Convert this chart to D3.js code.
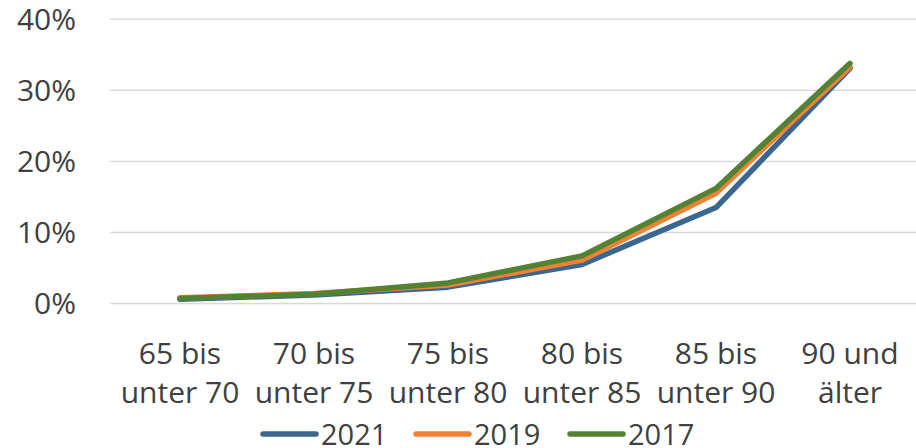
<!DOCTYPE html>
<html><head><meta charset="utf-8">
<script src="https://cdn.jsdelivr.net/npm/d3@7"></script>
<style>body{margin:0;background:#fff}svg{display:block}text{font-family:"Open Sans","Noto Sans",sans-serif;fill:#404040}</style>
</head><body><svg id="c" width="916" height="448"></svg>
<script>
const categories = [["65 bis","unter 70"],["70 bis","unter 75"],["75 bis","unter 80"],["80 bis","unter 85"],["85 bis","unter 90"],["90 und","älter"]];
const seriesNames = ["2021","2019","2017"];
const values2021 = [0.6, 1.2, 2.3, 5.5, 13.5, 33.1];
const values2019 = [0.8, 1.4, 2.6, 6.1, 15.5, 33.3];
const values2017 = [0.7, 1.3, 2.9, 6.7, 16.2, 33.8];
const colors = ["#3A6690","#EE8133","#548235"];
const yTicks = [0,10,20,30,40];

const svg = d3.select("#c");
const x = d3.scalePoint().domain(d3.range(categories.length)).range([180,850]);
const y = d3.scaleLinear().domain([0,40]).range([303.5,19.3]);

svg.append("g").selectAll("line").data(yTicks).join("line")
  .attr("x1",110).attr("x2",916).attr("y1",d=>y(d)).attr("y2",d=>y(d))
  .attr("stroke","#d9d9d9").attr("stroke-width",1.5);
svg.append("g").selectAll("text").data(yTicks).join("text")
  .attr("x",76).attr("y",d=>y(d)+10.5).attr("text-anchor","end")
  .style("font-size","30px").text(d=>d+"%");

const xl = svg.append("g").selectAll("text").data(categories).join("text")
  .attr("text-anchor","middle").style("font-size","30px");
xl.each(function(d,i){
  const t=d3.select(this);
  d.forEach((s,k)=>t.append("tspan").attr("x",x(i)).attr("y",364+k*39).text(s));
});

const all=[values2021,values2019,values2017];
const line=d3.line().x((d,i)=>x(i)).y(d=>y(d));
all.forEach((v,s)=>{
  svg.append("path").datum(v).attr("d",line).attr("fill","none")
    .attr("stroke",colors[s]).attr("stroke-width",5.5)
    .attr("stroke-linejoin","round").attr("stroke-linecap","round");
});

const legX=[261,414,568];
const lg=svg.append("g").selectAll("g").data(seriesNames).join("g")
  .attr("transform",(d,i)=>`translate(${legX[i]},434)`);
lg.append("line").attr("x1",2).attr("x2",55).attr("y1",0).attr("y2",0)
  .attr("stroke",(d,i)=>colors[i]).attr("stroke-width",5.5).attr("stroke-linecap","round");
lg.append("text").attr("x",60).attr("y",10.5).style("font-size","29px").text(d=>d);
</script></body></html>
